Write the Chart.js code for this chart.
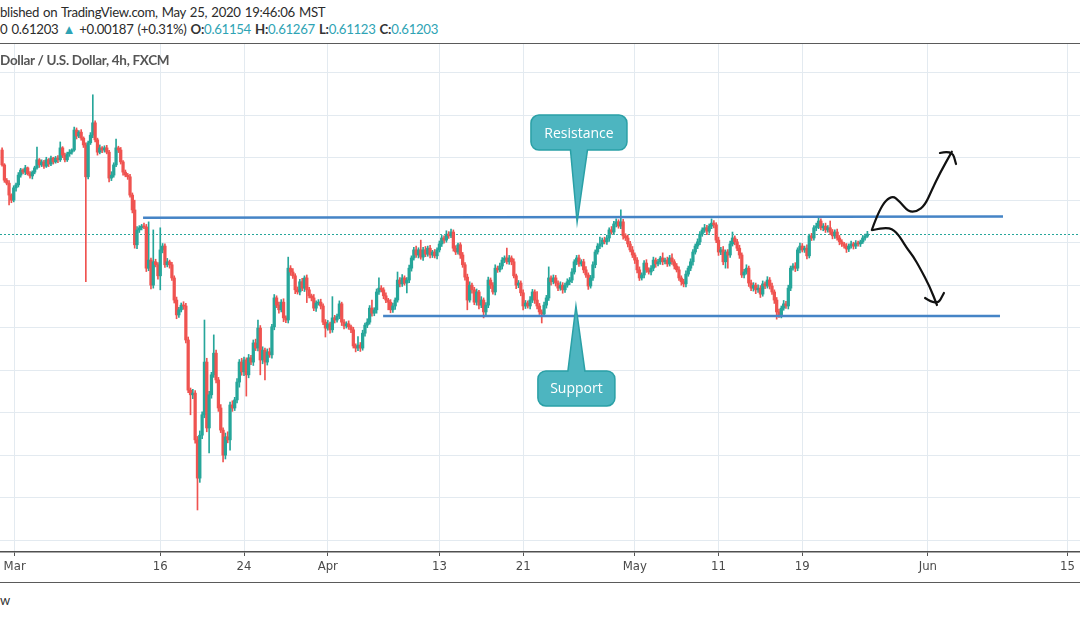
<!DOCTYPE html>
<html>
<head>
<meta charset="utf-8">
<script src="https://cdn.jsdelivr.net/npm/chart.js@4.4.1/dist/chart.umd.min.js"></script>
<style>
html,body{margin:0;padding:0;background:#fff;}
body{width:1080px;height:618px;position:relative;overflow:hidden;font-family:Lato,'Open Sans',sans-serif;}
.hdr{position:absolute;left:0;white-space:nowrap;font-size:13.2px;letter-spacing:-0.3px;word-spacing:1px;color:#2b2b2b;}
#hdr1{top:4px;}
#hdr2{top:21px;}
.v{color:#2ea3b4;}
.k{font-weight:bold;color:#333;}
#topline{position:absolute;left:0;top:43px;width:1080px;border-top:1.5px solid #5a5a5a;}
#wrap{position:absolute;left:0;top:44px;width:1080px;height:539px;}
#title{position:absolute;left:0;top:52px;font-size:13.5px;letter-spacing:-0.3px;font-weight:bold;color:#555;white-space:nowrap;}
#botline{position:absolute;left:0;top:582px;width:1080px;border-top:1.5px solid #5a5a5a;}
#foot{position:absolute;left:0;top:592px;font-size:13px;color:#333;}
</style>
</head>
<body>
<div class="hdr" id="hdr1">blished on TradingView.com, May 25, 2020 19:46:06 MST</div>
<div class="hdr" id="hdr2">0 0.61203 <span class="v">&#9650;</span> +0.00187 (+0.31%) <span class="k">O:</span><span class="v">0.61154</span> <span class="k">H:</span><span class="v">0.61267</span> <span class="k">L:</span><span class="v">0.61123</span> <span class="k">C:</span><span class="v">0.61203</span></div>
<div id="topline"></div>
<div id="wrap"><canvas id="chart" width="1080" height="539"></canvas></div>
<div id="title">Dollar / U.S. Dollar, 4h, FXCM</div>
<div id="botline"></div>
<div id="foot">w</div>
<script>
// NZD/USD 4h candles, prices in pips (1 pip = 0.0001); open of each bar = previous close
const firstBar = -8;
const firstOpen = 6318;
const closes = [
  6283,6247,6240,6212,6200,6229,6236,6259,
  6271,6266,6276,6262,6257,6266,6276,6295,6283,6290,
  6280,6295,6285,6299,6290,6299,6295,6323,6306,6295,
  6309,6313,6318,6365,6351,6360,6346,6330,6255,6335,
  6353,6382,6342,6313,6323,6318,6323,6313,6252,6259,
  6283,6323,6318,6290,6266,6259,6255,6212,6177,6095,
  6130,6135,6139,6137,6040,6059,6000,6055,6048,6022,
  6083,6092,6048,6055,6048,6017,5965,5930,5942,5953,
  5951,5871,5753,5742,5746,5636,5546,5647,5695,5819,
  5664,5742,5789,5840,5777,5711,5659,5600,5643,5636,
  5718,5711,5730,5772,5819,5796,5824,5789,5829,5819,
  5864,5852,5899,5824,5847,5819,5843,5836,5902,5970,
  5953,5942,5960,5923,5918,6040,6031,6022,5989,5984,
  6008,5993,6017,5989,5975,5970,5946,5958,5960,5951,
  5913,5899,5909,5895,5923,5918,5927,5956,5913,5904,
  5909,5902,5895,5857,5852,5859,5852,5887,5906,5913,
  5946,5934,5942,5984,5993,5989,5975,5965,5960,5942,
  5951,5965,6012,6003,6017,6005,6012,6040,6064,6083,
  6071,6083,6066,6083,6073,6087,6071,6078,6069,6083,
  6097,6111,6106,6120,6116,6125,6087,6078,6095,6071,
  6048,6019,5965,6000,5989,5960,5984,5953,5965,5937,
  5953,6012,6000,5984,6040,6036,6045,6059,6064,6055,
  6064,6055,6022,6000,6005,5982,5951,5958,5951,5965,
  5984,5965,5951,5937,5932,5953,5970,6017,6008,6017,
  6005,5993,6000,5989,6000,6008,6012,6031,6055,6064,
  6050,6055,6036,6024,5998,6017,6048,6078,6092,6097,
  6106,6102,6111,6130,6125,6144,6149,6139,6149,6116,
  6111,6097,6083,6071,6059,6036,6017,6024,6052,6036,
  6031,6040,6059,6050,6055,6064,6055,6059,6050,6064,
  6055,6045,6036,6017,6008,6003,6026,6040,6055,6078,
  6092,6102,6120,6130,6135,6127,6139,6146,6142,6106,
  6078,6083,6055,6078,6071,6097,6111,6102,6087,6071,
  6024,6031,6040,6005,5993,6000,5989,5993,5979,6003,
  5998,6012,5998,5984,5965,5937,5930,5946,5956,5951,
  5993,6040,6045,6040,6083,6092,6083,6087,6069,6116,
  6111,6135,6139,6151,6135,6139,6130,6135,6125,6116,
  6125,6111,6102,6097,6092,6085,6092,6097,6092,6099,
  6097,6102,6111,6115.4,6120.3
];
const upWick = [
  5,3,4,6,3,5,4,6,
  4,3,6,2,5,3,4,30,3,5,
  4,6,3,5,2,4,6,14,3,5,
  4,6,3,7,5,4,6,3,5,4,
  6,66,5,4,7,3,5,6,4,8,
  5,21,4,6,3,5,4,6,5,23,
  8,5,4,7,6,90,5,75,6,5,
  52,6,5,8,4,6,5,7,6,5,
  8,6,7,5,9,6,8,10,7,99,
  9,8,6,43,7,6,8,5,9,12,
  7,10,6,8,6,9,7,5,8,6,
  7,9,19,6,8,5,7,9,6,8,
  5,7,6,8,5,26,6,8,5,7,
  6,8,5,7,6,4,8,5,6,7,
  5,6,8,4,50,6,5,7,4,6,
  5,7,4,6,5,20,6,7,5,8,
  6,19,5,7,24,6,5,7,4,6,
  7,5,19,6,8,5,6,7,5,6,
  9,5,23,6,8,5,7,4,6,5,
  7,6,5,8,6,7,5,6,4,5,
  6,5,7,8,5,6,7,4,8,5,
  6,7,5,6,8,5,7,6,5,23,
  6,5,7,4,6,5,7,6,5,8,
  6,5,20,6,5,7,6,26,5,7,
  6,5,8,6,5,7,6,8,5,6,
  7,5,6,8,5,6,7,5,6,16,
  5,7,6,5,8,6,7,5,28,6,
  5,7,6,8,5,6,7,5,6,8,
  5,6,7,5,6,4,12,5,7,6,
  10,5,6,7,5,6,8,5,7,6,
  5,7,6,5,8,6,5,10,6,5,
  7,6,8,5,6,7,14,5,6,7,
  5,6,8,5,7,6,5,8,6,7,
  5,8,6,7,5,6,7,5,8,6,
  7,5,6,8,5,7,6,5,8,4,
  6,5,7,9,5,6,7,5,16,6,
  5,7,6,5,4,6,5,7,4,6,
  5,4,6,5,6.4
];
const downWick = [
  3,5,4,23,6,4,8,5,
  5,4,6,3,5,7,4,3,6,4,
  5,3,6,4,5,3,7,4,6,5,
  4,6,5,3,7,4,5,6,247,5,
  4,6,5,7,4,6,5,4,9,6,
  5,4,6,5,7,4,6,5,7,8,
  9,6,5,4,8,6,9,7,5,8,
  33,7,6,5,8,6,7,9,6,5,
  8,7,6,47,9,8,75,10,8,7,
  9,59,8,6,7,8,6,16,9,7,
  24,8,6,7,12,8,9,50,7,6,
  8,6,7,35,9,42,7,6,8,7,
  6,8,5,9,6,7,8,6,9,5,
  7,6,8,30,5,7,6,8,5,7,
  6,21,5,8,6,7,5,6,8,7,
  5,6,7,5,9,6,8,5,7,6,
  5,7,6,8,6,5,7,6,18,7,
  6,8,5,7,6,5,23,6,7,5,
  6,7,5,8,6,5,7,6,5,7,
  5,6,7,5,6,4,7,6,5,8,
  6,7,23,5,8,6,7,9,6,14,
  7,6,8,5,7,6,5,7,6,5,
  6,7,5,8,6,7,9,6,5,7,
  6,8,7,6,21,5,7,6,8,5,
  7,6,5,8,6,5,7,6,5,7,
  6,5,7,6,8,5,6,7,5,6,
  7,5,6,8,5,6,7,5,6,8,
  6,7,5,6,8,7,6,5,7,6,
  5,7,6,8,5,6,7,5,6,5,
  6,7,5,6,8,7,7,5,6,8,
  5,6,7,5,6,8,5,6,7,6,
  8,6,7,15,31,6,5,7,6,8,
  6,7,5,8,6,7,9,6,8,5,
  6,5,7,6,8,17,6,7,5,6,
  7,6,5,8,6,7,5,6,7,5,
  6,5,7,6,5,7,6,5,6,7,
  6,5,7,6,5,8,6,5,7,6,
  5,6,4,5,3.1
];

// x axis: bar index (6 bars per trading day, 0 = Mar 2 00:00)
const tickBars = [-2.6, 60, 96, 132, 180, 216, 264, 300, 336, 390, 450];
const tickLabels = ['Mar', '16', '24', 'Apr', '13', '21', 'May', '11', '19', 'Jun', '15'];
const priceGrid = [0.54,0.55,0.56,0.57,0.58,0.59,0.60,0.61,0.62,0.63,0.64,0.65];
const lastPrice = 0.61203;

// drawings (bar index, price)
const resistance = [[52.6, 0.61588], [422.3, 0.61616]];
const support = [[155.8, 0.59274], [421.0, 0.59274]];
const callouts = [
  {text:'Resistance', box:[240.0, 0.63592], w:96, h:35, tip:[239.2, 0.61486]},
  {text:'Support', box:[238.9, 0.57569], w:77, h:35, tip:[238.7, 0.59510]}
];
const upPath = [[365.9,0.61298],[369.4,0.61839],[374.5,0.62122],[378.0,0.61964],[381.6,0.61729],[385.2,0.61729],[388.8,0.61886],[391.7,0.62239],[395.2,0.62639],[400.3,0.63140]];
const upHead = [[395.2,0.63110],[400.4,0.63180],[402.1,0.62851]];
const downPath = [[366.4,0.61298],[372.3,0.61376],[376.6,0.61258],[380.9,0.60874],[383.6,0.60686],[386.6,0.60404],[390.9,0.59957],[393.9,0.59533]];
const downHead = [[388.8,0.59698],[393.9,0.59510],[396.9,0.59816]];

const UP='#26a69a', DOWN='#ef5350', PIP=10000;

const candles = closes.map((c,i)=>{
  const o = i ? closes[i-1] : firstOpen;
  return {x:firstBar+i, o:o/PIP, c:c/PIP, h:(Math.max(o,c)+upWick[i])/PIP, l:(Math.min(o,c)-downWick[i])/PIP};
});
const colors = candles.map(d=>d.c>=d.o?UP:DOWN);

function px(chart,p){ return [chart.scales.x.getPixelForValue(p[0]), chart.scales.y.getPixelForValue(p[1])]; }

function smoothPath(ctx,pts){
  ctx.beginPath();
  ctx.moveTo(pts[0][0],pts[0][1]);
  for(let i=1;i<pts.length-1;i++){
    const mx=(pts[i][0]+pts[i+1][0])/2, my=(pts[i][1]+pts[i+1][1])/2;
    ctx.quadraticCurveTo(pts[i][0],pts[i][1],mx,my);
  }
  const last=pts[pts.length-1];
  ctx.lineTo(last[0],last[1]);
  ctx.stroke();
}

function callout(ctx,chart,c){
  const [bx,by]=px(chart,c.box), [tx,ty]=px(chart,c.tip);
  const l=bx-c.w/2, r=bx+c.w/2, t=by-c.h/2, b=by+c.h/2, rad=8, hw=8.5;
  ctx.beginPath();
  ctx.moveTo(l+rad,t);
  if(ty<t){ ctx.lineTo(bx-hw,t); ctx.lineTo(tx,ty); ctx.lineTo(bx+hw,t); }
  ctx.lineTo(r-rad,t); ctx.arcTo(r,t,r,t+rad,rad);
  ctx.lineTo(r,b-rad); ctx.arcTo(r,b,r-rad,b,rad);
  if(ty>b){ ctx.lineTo(bx+hw,b); ctx.lineTo(tx,ty); ctx.lineTo(bx-hw,b); }
  ctx.lineTo(l+rad,b); ctx.arcTo(l,b,l,b-rad,rad);
  ctx.lineTo(l,t+rad); ctx.arcTo(l,t,l+rad,t,rad);
  ctx.closePath();
  ctx.fillStyle='#4db5c0'; ctx.fill();
  ctx.strokeStyle='#2aa0a6'; ctx.lineWidth=1.5; ctx.stroke();
  ctx.fillStyle='#fff'; ctx.font='14px "Open Sans", sans-serif';
  ctx.textAlign='center'; ctx.textBaseline='middle';
  ctx.fillText(c.text,bx,by+1);
}

const drawings = {
  id:'drawings',
  beforeDatasetsDraw(chart){
    const ctx=chart.ctx, a=chart.chartArea, y=chart.scales.y.getPixelForValue(lastPrice);
    ctx.save();
    ctx.strokeStyle=UP; ctx.lineWidth=1; ctx.setLineDash([2,2]);
    ctx.beginPath(); ctx.moveTo(a.left,Math.round(y)+0.5); ctx.lineTo(a.right,Math.round(y)+0.5); ctx.stroke();
    ctx.restore();
  },
  afterDatasetsDraw(chart){
    const ctx=chart.ctx;
    ctx.save();
    ctx.strokeStyle='#4584c6'; ctx.lineWidth=2.5; ctx.lineCap='butt';
    [resistance,support].forEach(line=>{
      const p0=px(chart,line[0]), p1=px(chart,line[1]);
      ctx.beginPath(); ctx.moveTo(p0[0],p0[1]); ctx.lineTo(p1[0],p1[1]); ctx.stroke();
    });
    callouts.forEach(c=>callout(ctx,chart,c));
    ctx.strokeStyle='#111'; ctx.lineWidth=2.2; ctx.lineCap='round'; ctx.lineJoin='round';
    [upPath,upHead,downPath,downHead].forEach(path=>smoothPath(ctx,path.map(p=>px(chart,p))));
    ctx.restore();
  }
};

new Chart(document.getElementById('chart'),{
  type:'bar',
  data:{datasets:[
    {data:candles.map(d=>({x:d.x,y:[d.l,d.h]})),backgroundColor:colors,barThickness:1,grouped:false,order:2,borderWidth:0},
    {data:candles.map(d=>({x:d.x,y:[d.o,d.c]})),backgroundColor:colors,barThickness:2.6,minBarLength:1,grouped:false,order:1,borderWidth:0}
  ]},
  options:{
    animation:false,responsive:false,devicePixelRatio:1,
    layout:{padding:0},
    plugins:{legend:{display:false},tooltip:{enabled:false}},
    scales:{
      x:{type:'linear',min:-8.9,max:455.4,offset:false,
        grid:{color:'#e3eaf0',offset:false,drawTicks:true,tickLength:4,tickColor:'#555'},
        border:{display:true,color:'#505050',width:1.5},
        ticks:{autoSkip:false,maxRotation:0,color:'#4a4a4a',padding:3,
          font:{family:'"Liberation Sans Narrow","DejaVu Sans Condensed",sans-serif',size:13},
          callback:(v,i)=>tickLabels[i]},
        afterBuildTicks:s=>{s.ticks=tickBars.map(v=>({value:v}));},
        afterFit:s=>{s.height=31;}
      },
      y:{min:0.53721,max:0.65675,
        grid:{color:'#e3eaf0',drawTicks:false},
        border:{display:false},
        ticks:{display:false},
        afterBuildTicks:s=>{s.ticks=priceGrid.map(v=>({value:v}));},
        afterFit:s=>{s.width=0;}
      }
    }
  },
  plugins:[drawings]
});
</script>
</body>
</html>
